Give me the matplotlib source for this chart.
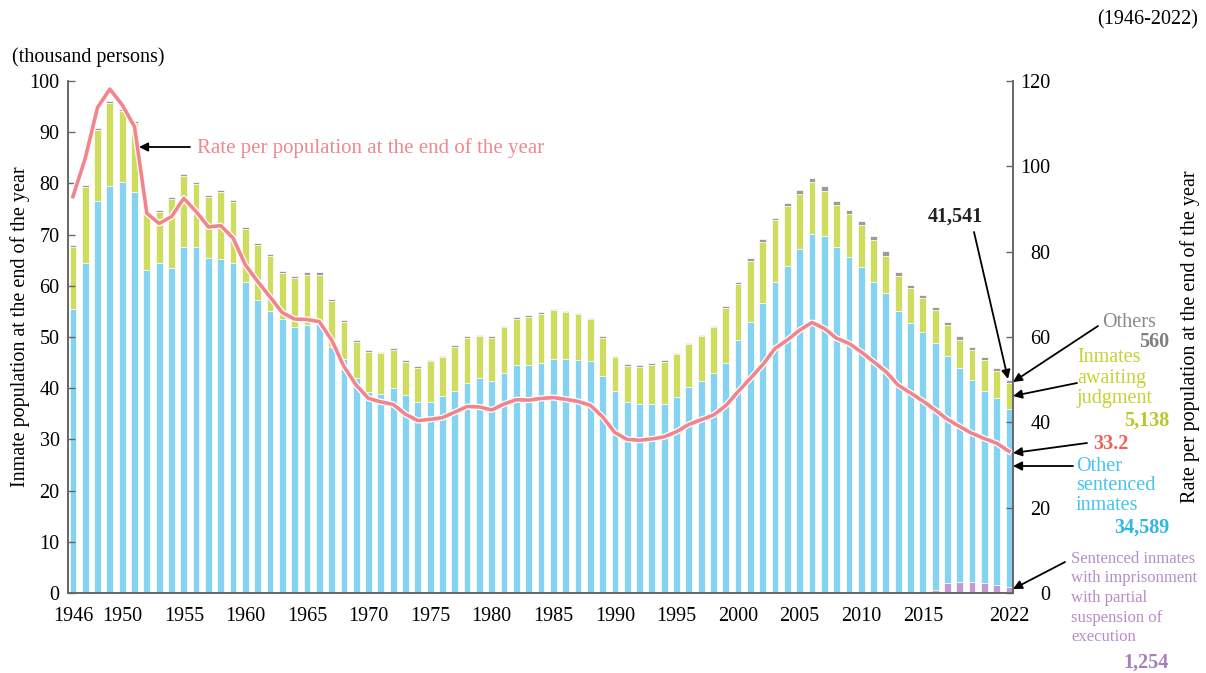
import matplotlib
matplotlib.use("Agg")
import matplotlib.pyplot as plt
import matplotlib.patheffects as pe
import numpy as np

plt.rcParams["font.family"] = ["Liberation Serif", "DejaVu Serif"]

# data (thousand persons / rate per 100,000 population)
years = list(range(1946, 2023))

sentenced = [
    55.5, 64.5, 76.6, 79.5, 80.3, 78.3, 63.0, 64.5, 63.4, 67.6,
    67.6, 65.4, 65.3, 64.5, 60.8, 57.3, 55.0, 53.6, 52.0, 52.3,
    52.7, 48.1, 45.8, 42.0, 39.2, 38.9, 40.0, 38.6, 37.4, 37.4,
    38.4, 39.5, 41.0, 42.0, 41.5, 43.0, 44.5, 44.5, 44.9, 45.7,
    45.7, 45.5, 45.4, 42.3, 39.5, 37.4, 36.9, 36.9, 37.0, 38.2,
    40.2, 41.5, 43.0, 45.0, 49.5, 53.0, 56.7, 60.7, 63.9, 67.2,
    70.2, 69.7, 67.5, 65.7, 63.6, 60.8, 58.5, 55.0, 52.7, 50.9,
    48.3, 44.4, 41.7, 39.5, 37.5, 36.4, 34.589,
]

partial = [0.0] * 70 + [0.6, 1.9, 2.2, 2.1, 2.0, 1.6, 1.254]

awaiting = [
    12.0, 14.8, 13.8, 16.2, 13.9, 13.4, 11.1, 9.9, 13.6, 13.9,
    12.3, 12.0, 13.0, 11.9, 10.3, 10.7, 10.8, 8.9, 9.6, 9.9,
    9.5, 9.0, 7.1, 7.1, 7.9, 7.9, 7.5, 6.6, 6.6, 7.9,
    7.6, 8.6, 8.9, 8.1, 8.4, 8.9, 9.1, 9.4, 9.6, 9.5,
    9.1, 8.9, 8.1, 7.6, 6.5, 7.0, 7.3, 7.7, 8.2, 8.4,
    8.4, 8.6, 8.9, 10.7, 10.8, 11.9, 11.9, 12.1, 11.7, 10.7,
    10.0, 8.9, 8.3, 8.4, 8.2, 8.1, 7.4, 6.9, 6.8, 6.7,
    6.3, 6.1, 5.6, 5.9, 6.0, 5.4, 5.138,
]

others = [0.4] * 24 + [0.3] * 30 + [0.5] * 5 + [0.8] * 9 + [0.6] * 8 + [0.56]

rate = [
    92.9, 101.9, 113.8, 118.1, 114.4, 109.3, 89.0, 86.6, 88.2, 92.5,
    89.4, 85.8, 86.1, 83.2, 76.9, 73.0, 69.4, 65.7, 64.2, 64.1,
    63.6, 59.3, 53.1, 48.7, 45.6, 44.8, 44.2, 41.9, 40.4, 40.7,
    41.1, 42.4, 43.7, 43.6, 42.9, 44.3, 45.3, 45.2, 45.6, 45.8,
    45.4, 44.9, 44.0, 41.3, 37.6, 36.0, 35.8, 36.1, 36.6, 37.8,
    39.5, 40.6, 41.7, 43.9, 47.2, 50.3, 53.5, 57.3, 59.3, 61.6,
    63.4, 62.0, 59.7, 58.5, 56.5, 54.2, 51.9, 48.7, 46.9, 45.0,
    42.9, 40.7, 39.0, 37.4, 36.2, 35.1, 33.2,
]

xtick_years = [1946, 1950, 1955, 1960, 1965, 1970, 1975, 1980, 1985,
               1990, 1995, 2000, 2005, 2010, 2015, 2022]

c_blue = "#84d3f3"
c_green = "#cfdd5e"
c_gray = "#9b9b9b"
c_purple = "#c29ad2"
c_line = "#f2858c"

W, H = 1206, 673
fig = plt.figure(figsize=(W / 100, H / 100), dpi=100)


def px(x, y):
    return (x / W, 1 - y / H)


ax = fig.add_axes([68 / W, 1 - 593 / H, (1013 - 68) / W, (593 - 81) / H])

x = np.array(years)
s = np.array(sentenced)
p = np.array(partial)
a = np.array(awaiting)
o = np.array(others)

bw = 0.55
kw = dict(width=bw, edgecolor="white", linewidth=0.5)
ax.bar(x, p, color=c_purple, **kw)
ax.bar(x, s, bottom=p, color=c_blue, **kw)
ax.bar(x, a, bottom=p + s, color=c_green, **kw)
ax.bar(x, o, bottom=p + s + a, color=c_gray, **kw)

ax.set_xlim(1945.6, 2022.32)
ax.set_ylim(0, 100)
ax.set_yticks(range(0, 101, 10))
ax.set_xticks(xtick_years)
ax.tick_params(axis="x", length=0, pad=10, labelsize=14.5)
ax.tick_params(axis="y", direction="in", length=5, width=1, color="#666666",
               pad=6, labelsize=14.5)

ax2 = ax.twinx()
ax2.plot(x, rate, color=c_line, lw=2.6, solid_joinstyle="round",
         path_effects=[pe.Stroke(linewidth=4.4, foreground="white"), pe.Normal()])
ax2.set_ylim(0, 120)
ax2.set_yticks(range(0, 121, 20))
ax2.tick_params(axis="y", direction="in", length=5, width=1, color="#666666",
                pad=27, labelsize=14.5)
for lbl in ax2.get_yticklabels():
    lbl.set_horizontalalignment("right")

for a_ in (ax, ax2):
    a_.spines["top"].set_visible(False)
    for sp in ("left", "right", "bottom"):
        a_.spines[sp].set_color("#666666")
        a_.spines[sp].set_linewidth(1.2)

fs = 14.5
fig.text(*px(1198, 20), "(1946-2022)", ha="right", va="center", fontsize=fs)
fig.text(*px(12, 57), "(thousand persons)", ha="left", va="center", fontsize=fs)
fig.text(*px(20, 327), "Inmate population at the end of the year", rotation=90,
         ha="center", va="center", fontsize=fs)
fig.text(*px(1190, 337), "Rate per population at the end of the year", rotation=90,
         ha="center", va="center", fontsize=fs)

arrow = dict(arrowstyle="-|>", color="black", lw=1.3, mutation_scale=13,
             shrinkA=0, shrinkB=0)


def arr(x0, y0, x1, y1):
    fig.add_artist(matplotlib.patches.FancyArrowPatch(
        px(x0, y0), px(x1, y1), transform=fig.transFigure, **arrow))


fig.text(*px(197, 148), "Rate per population at the end of the year", color="#f08890",
         ha="left", va="center", fontsize=15)
arr(190, 147, 139, 147)

fig.text(*px(955, 217), "41,541", color="#222222", ha="center", va="center",
         fontsize=fs, fontweight="bold")
arr(974, 232, 1008, 379)

fig.text(*px(1102, 322), "Others", color="#8a8a8a", ha="left", va="center", fontsize=fs)
fig.text(*px(1169, 342), "560", color="#7f7f7f", ha="right", va="center",
         fontsize=fs, fontweight="bold")
arr(1098, 326, 1013, 382)

fig.text(*px(1077, 378), "Inmates\nawaiting\njudgment", color="#c5d232", ha="left",
         va="center", fontsize=fs, linespacing=1.08)
fig.text(*px(1169, 421), "5,138", color="#b8c826", ha="right", va="center",
         fontsize=fs, fontweight="bold")
arr(1077, 383, 1013, 396)

fig.text(*px(1129, 444), "33.2", color="#f0605a", ha="right", va="center",
         fontsize=fs, fontweight="bold")
arr(1087, 443, 1013, 453)

fig.text(*px(1076, 486), "Other\nsentenced\ninmates", color="#45c4f0", ha="left",
         va="center", fontsize=fs, linespacing=1.05)
fig.text(*px(1169, 528), "34,589", color="#2cb6ea", ha="right", va="center",
         fontsize=fs, fontweight="bold")
arr(1073, 466, 1013, 466)

fig.text(*px(1071, 598), "Sentenced inmates\nwith imprisonment\nwith partial\n"
         "suspension of\nexecution", color="#b68ccb", ha="left", va="center",
         fontsize=12, linespacing=1.3)
fig.text(*px(1169, 663), "1,254", color="#a77ec0", ha="right", va="center",
         fontsize=fs, fontweight="bold")
arr(1065, 562, 1013, 589)

fig.savefig("out.png", dpi=100)
